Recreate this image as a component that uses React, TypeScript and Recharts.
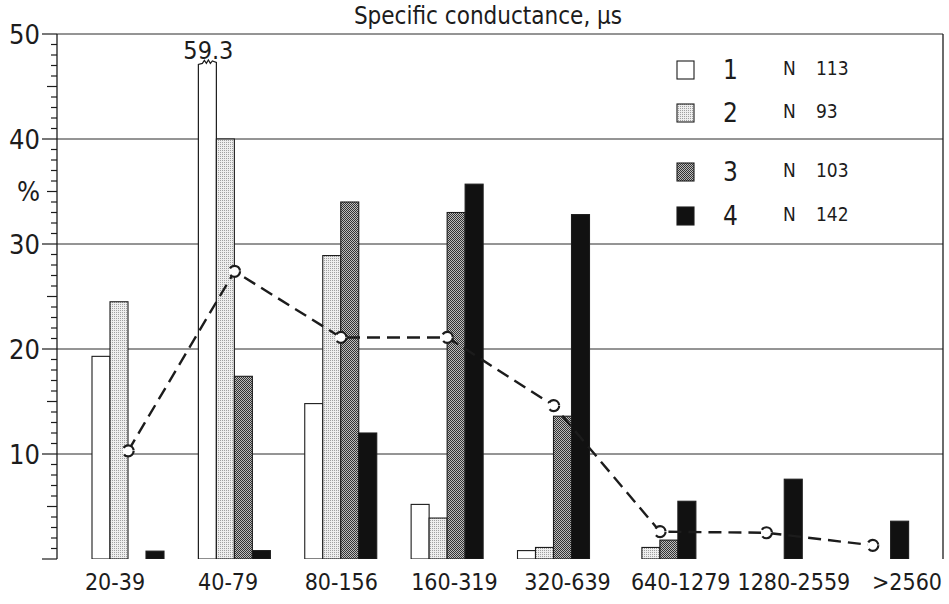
import React from 'react';
import { ComposedChart, Bar, Line, XAxis, YAxis, CartesianGrid, Legend } from 'recharts';

const categories = ['20-39', '40-79', '80-156', '160-319', '320-639', '640-1279', '1280-2559', '>2560'];
const series1 = [19.3, 59.3, 14.8, 5.2, 0.8, 0, 0, 0];
const series2 = [24.5, 40.0, 28.9, 3.9, 1.1, 1.1, 0, 0];
const series3 = [0, 17.4, 34.0, 33.0, 13.6, 1.8, 0, 0];
const series4 = [0.75, 0.8, 12.0, 35.7, 32.8, 5.5, 7.6, 3.6];
const meanLine = [10.3, 27.4, 21.1, 21.1, 14.6, 2.6, 2.5, 1.3];

const seriesLabels = ['1', '2', '3', '4'];
const seriesCounts = [113, 93, 103, 142];
const yTickValues = Array.from({ length: 51 }, (_, i) => i);
const gridValues = [10, 20, 30, 40, 50];
const yMax = 50;
const breakAt = 47.2;
const title = 'Specific conductance, µs';

const data = categories.map((cat, i) => ({
  cat,
  s1: series1[i],
  s2: series2[i],
  s3: series3[i],
  s4: series4[i],
  mean: meanLine[i],
}));

const FONT = '"DejaVu Sans Condensed", "DejaVu Sans", sans-serif';
const INK = '#1c1c1c';
const fills = ['#ffffff', 'url(#pat2)', 'url(#pat3)', '#111111'];

const makeShape = (key: string, fill: string) => (props: any) => {
  const { x, y, width, height, payload } = props;
  const v = payload ? payload[key] : 0;
  if (!v || !height) return <g />;
  if (v > yMax) {
    const base = y + height;
    const top = base - (breakAt / v) * height;
    const pts = [
      [x, base],
      [x, top + 1],
      [x + 4, top],
      [x + 6, top - 3],
      [x + 8, top],
      [x + 10, top - 3.5],
      [x + 12, top],
      [x + 14, top - 2.5],
      [x + width, top - 1],
      [x + width, base],
    ]
      .map((p) => p.join(','))
      .join(' ');
    return (
      <g>
        <polygon points={pts} fill={fill} stroke={INK} strokeWidth={1.2} />
        <text
          x={x + width / 2 + 1}
          y={top - 4}
          textAnchor="middle"
          fontSize={25}
          fontFamily={FONT}
          fill={INK}
        >
          {String(v)}
        </text>
      </g>
    );
  }
  return <rect x={x} y={y} width={width} height={height} fill={fill} stroke={INK} strokeWidth={1.1} />;
};

const YTick = (props: any) => {
  const { x, y, payload } = props;
  const v = payload.value;
  const len = v % 10 === 0 ? 15 : v % 5 === 0 ? 10 : 6;
  let label: string | null = null;
  if (v % 10 === 0 && v > 0) label = String(v);
  if (v === 35) label = '%';
  return (
    <g>
      <line x1={x - len} x2={x} y1={y} y2={y} stroke={INK} strokeWidth={1.2} />
      {label && (
        <text
          x={x - 17}
          y={y}
          textAnchor="end"
          dominantBaseline="central"
          fontSize={27}
          fontFamily={FONT}
          fill={INK}
        >
          {label}
        </text>
      )}
    </g>
  );
};

const rowY = [70, 113, 172, 216];

const Overlay = () => (
  <svg width={949} height={604} style={{ display: 'block', pointerEvents: 'none' }}>
    <text x={488} y={24} textAnchor="middle" fontSize={24} fontFamily={FONT} fill={INK}>
      {title}
    </text>
    {seriesLabels.map((lab, i) => {
      const cy = rowY[i];
      return (
        <g key={lab} fontFamily={FONT} fill={INK}>
          <rect x={677} y={cy - 9} width={17} height={18} fill={fills[i]} stroke={INK} strokeWidth={1.1} />
          <text x={723} y={cy} fontSize={26} dominantBaseline="central">
            {lab}
          </text>
          <text x={783} y={cy - 2} fontSize={19} dominantBaseline="central">
            N
          </text>
          <text x={816} y={cy - 2} fontSize={19} dominantBaseline="central">
            {seriesCounts[i]}
          </text>
        </g>
      );
    })}
  </svg>
);

export default function App() {
  return (
    <div style={{ position: 'absolute', left: 0, top: 0, width: 949, height: 604, background: '#fff' }}>
      <svg width={0} height={0} style={{ position: 'absolute' }}>
        <defs>
          <pattern id="pat2" width={2} height={2} patternUnits="userSpaceOnUse">
            <rect width={2} height={2} fill="#eeeeee" />
            <rect width={1} height={1} fill="#a0a0a0" />
          </pattern>
          <pattern id="pat3" width={2} height={2} patternUnits="userSpaceOnUse">
            <rect width={2} height={2} fill="#bdbdbd" />
            <rect width={1} height={1} fill="#333333" />
            <rect x={1} y={1} width={1} height={1} fill="#333333" />
          </pattern>
        </defs>
      </svg>
      <ComposedChart
        width={949}
        height={604}
        data={data}
        margin={{ top: 34, right: 5, bottom: 0, left: 0 }}
        barGap={0}
        barSize={18}
      >
        <CartesianGrid vertical={false} horizontalValues={gridValues} stroke="#2a2a2a" strokeWidth={1} />
        <XAxis
          dataKey="cat"
          padding={{ left: 18, right: 17 }}
          tick={false}
          tickLine={false}
          height={0}
          interval={0}
          axisLine={{ stroke: INK, strokeWidth: 1.3 }}
        />
        <XAxis
          xAxisId="labels"
          dataKey="cat"
          scale="point"
          padding={{ left: 58, right: 36 }}
          axisLine={false}
          tickLine={false}
          tickSize={0}
          tickMargin={15}
          height={45}
          interval={0}
          tick={{ fontSize: 23, fill: INK, fontFamily: FONT }}
        />
        <YAxis
          type="number"
          domain={[0, yMax]}
          allowDataOverflow
          ticks={yTickValues}
          interval={0}
          tickLine={false}
          tickSize={0}
          tickMargin={0}
          width={57}
          axisLine={{ stroke: INK, strokeWidth: 1.3 }}
          tick={(p: any) => <YTick {...p} />}
        />
        <YAxis
          yAxisId="r"
          orientation="right"
          width={1}
          domain={[0, yMax]}
          tick={false}
          tickLine={false}
          axisLine={{ stroke: INK, strokeWidth: 1.3 }}
        />
        <Bar dataKey="s1" isAnimationActive={false} shape={makeShape('s1', fills[0])} />
        <Bar dataKey="s2" isAnimationActive={false} shape={makeShape('s2', fills[1])} />
        <Bar dataKey="s3" isAnimationActive={false} shape={makeShape('s3', fills[2])} />
        <Bar dataKey="s4" isAnimationActive={false} shape={makeShape('s4', fills[3])} />
        <Line
          dataKey="mean"
          isAnimationActive={false}
          stroke={INK}
          strokeWidth={2.4}
          strokeDasharray="13 7"
          dot={{ r: 5.5, fill: '#fff', stroke: INK, strokeWidth: 2.2 }}
          activeDot={false}
        />
        <Legend
          layout="horizontal"
          verticalAlign="middle"
          align="center"
          wrapperStyle={{ left: 0, top: 0, width: 949, height: 604, pointerEvents: 'none' }}
          content={() => <Overlay />}
        />
      </ComposedChart>
    </div>
  );
}
